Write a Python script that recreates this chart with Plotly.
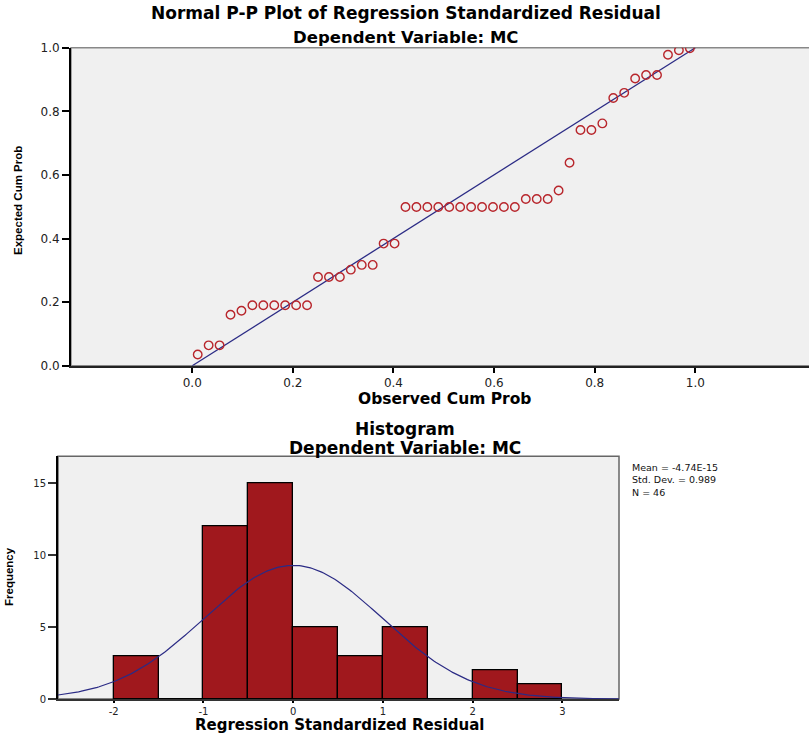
import math
import plotly.graph_objects as go

# ---------------- data ----------------
# Normal P-P plot: observed cumulative probability (rank based) and expected cum prob
n_cases = 46
observed_cum_prob = [(i - 0.5) / n_cases for i in range(1, n_cases + 1)]
expected_cum_prob = [
    0.035, 0.064, 0.064, 0.160, 0.173,
    0.190, 0.190, 0.190, 0.190, 0.190, 0.190,
    0.279, 0.279, 0.279, 0.302, 0.317, 0.317, 0.384, 0.384,
    0.499, 0.499, 0.499, 0.499, 0.499, 0.499, 0.499, 0.499, 0.499, 0.499, 0.499,
    0.524, 0.524, 0.524, 0.551, 0.638, 0.741, 0.741, 0.762,
    0.842, 0.858, 0.903, 0.914, 0.914, 0.978, 0.992, 0.998,
]
ref_line_x = [0.0, 1.0]
ref_line_y = [0.0, 1.0]

# Histogram of regression standardized residual
bin_left_edges = [-2.0, -1.5, -1.0, -0.5, 0.0, 0.5, 1.0, 1.5, 2.0, 2.5]
bin_counts = [3, 0, 12, 15, 5, 3, 5, 0, 2, 1]
bin_width = 0.5
stat_mean = -4.74e-15
stat_sd = 0.989
stat_n = 46
stat_lines = ["Mean = -4.74E-15", "Std. Dev. = 0.989", "N = 46"]

pp_xticks = [0.0, 0.2, 0.4, 0.6, 0.8, 1.0]
pp_yticks = [0.0, 0.2, 0.4, 0.6, 0.8, 1.0]
hist_xticks = [-2, -1, 0, 1, 2, 3]
hist_yticks = [0, 5, 10, 15]

# ---------------- layout helpers ----------------
W, H = 809, 734
def px(x):
    return x / W
def py(y):
    return 1 - y / H

HX0, HX1 = -2.62, 3.63
# fitted normal curve from the displayed statistics
curve_x = [HX0 + k * (HX1 - HX0) / 300 for k in range(301)]
curve_y = [stat_n * bin_width / (stat_sd * math.sqrt(2 * math.pi))
           * math.exp(-0.5 * ((x - stat_mean) / stat_sd) ** 2) for x in curve_x]
bar_centers = [e + bin_width / 2 for e in bin_left_edges]

BG = "#f0f0f0"
BAR = "#a0181d"
LINE = "#2b2b85"
MARK = "#b8262c"
FONT = "DejaVu Sans"
NARROW = "Liberation Sans, Arial, sans-serif"

fig = go.Figure()

fig.add_trace(go.Scatter(x=ref_line_x, y=ref_line_y, mode="lines",
                         line=dict(color=LINE, width=1.3),
                         xaxis="x", yaxis="y", showlegend=False, hoverinfo="skip"))
fig.add_trace(go.Scatter(x=observed_cum_prob, y=expected_cum_prob, mode="markers",
                         marker=dict(symbol="circle-open", size=8.5,
                                     line=dict(color=MARK, width=1.4), color=MARK),
                         xaxis="x", yaxis="y", showlegend=False))

fig.add_trace(go.Bar(x=bar_centers, y=bin_counts, width=bin_width,
                     marker=dict(color=BAR, line=dict(color="black", width=1.3)),
                     xaxis="x2", yaxis="y2", showlegend=False))
fig.add_trace(go.Scatter(x=curve_x, y=curve_y, mode="lines",
                         line=dict(color=LINE, width=1.2),
                         xaxis="x2", yaxis="y2", showlegend=False, hoverinfo="skip"))

tickfont = dict(family=FONT, size=12, color="#222222")
smalltick = dict(family=FONT, size=10, color="#222222")

# top plot geometry (pixels)
TX0, TX1 = 71, 809
TY0, TY1 = 47.7, 365.7
# bottom plot geometry (pixels)
BX0, BX1 = 58, 619
BY0, BY1 = 456.3, 699

common = dict(showgrid=False, zeroline=False, automargin=False, fixedrange=True)

fig.update_layout(
    template="none",
    width=W, height=H,
    margin=dict(l=0, r=0, t=0, b=0, pad=0, autoexpand=False),
    paper_bgcolor="white",
    plot_bgcolor=BG,
    bargap=0,
    xaxis=dict(domain=[px(TX0), px(TX1)], range=[-0.241, 1.226],
               tickvals=pp_xticks, ticktext=[f"{v:.1f}" for v in pp_xticks],
               ticks="outside", ticklen=5, tickwidth=2, tickcolor="black",
               showline=True, linecolor="#222222", linewidth=2,
               tickfont=tickfont, anchor="y", **common),
    yaxis=dict(domain=[py(TY1), py(TY0)], range=[0, 1],
               tickvals=pp_yticks, ticktext=[f"{v:.1f}" for v in pp_yticks],
               ticks="outside", ticklen=7, tickwidth=1.5, tickcolor="black",
               showline=True, linecolor="black", linewidth=2,
               tickfont=tickfont, anchor="x", **common),
    xaxis2=dict(domain=[px(BX0), px(BX1)], range=[HX0, HX1],
                tickvals=hist_xticks, ticktext=[str(v) for v in hist_xticks],
                ticks="outside", ticklen=2, tickwidth=1.5, tickcolor="black",
                showline=True, linecolor="#333333", linewidth=1.5,
                tickfont=smalltick, anchor="y2", **common),
    yaxis2=dict(domain=[py(BY1), py(BY0)], range=[0, (BY1 - BY0) / 14.4],
                tickvals=hist_yticks, ticktext=[str(v) for v in hist_yticks],
                ticks="outside", ticklen=8, tickwidth=1.5, tickcolor="#333333",
                showline=True, linecolor="black", linewidth=2,
                tickfont=smalltick, anchor="x2", **common),
)

# plot frames (grey) under the axis lines
fig.add_shape(type="rect", xref="paper", yref="paper",
              x0=px(TX0), x1=px(TX1) + 0.01, y0=py(TY1), y1=py(TY0),
              line=dict(color="#888888", width=1.5), fillcolor="rgba(0,0,0,0)", layer="below")
fig.add_shape(type="rect", xref="paper", yref="paper",
              x0=px(BX0), x1=px(BX1), y0=py(BY1), y1=py(BY0),
              line=dict(color="#666666", width=1.5), fillcolor="rgba(0,0,0,0)", layer="below")

def ann(text, x, y, size, family=FONT, bold=True, angle=0, xanchor="center", color="black"):
    fig.add_annotation(text=f"<b>{text}</b>" if bold else text,
                       x=px(x), y=py(y), xref="paper", yref="paper",
                       xanchor=xanchor, yanchor="middle", showarrow=False,
                       textangle=angle, align="left" if xanchor == "left" else "center",
                       font=dict(family=family, size=size, color=color))

ann("Normal P-P Plot of Regression Standardized Residual", 406, 13, 17)
ann("Dependent Variable: MC", 405, 38, 16.5)
ann("Observed Cum Prob", 444, 398.5, 15.5)
ann("Expected Cum Prob", 18, 201, 11.5, family=NARROW, angle=-90)
ann("Histogram", 405, 429, 17)
ann("Dependent Variable: MC", 405, 448, 17)
ann("Regression Standardized Residual", 339, 725, 15)
ann("Frequency", 9, 577, 11.5, family=NARROW, angle=-90)
ann("<br>".join(stat_lines), 630, 480, 9.5, bold=False, xanchor="left", color="#111111")

fig.write_html("out.html", config={"displayModeBar": False},
               post_script="document.body.style.margin='0';document.body.style.overflow='hidden';")
